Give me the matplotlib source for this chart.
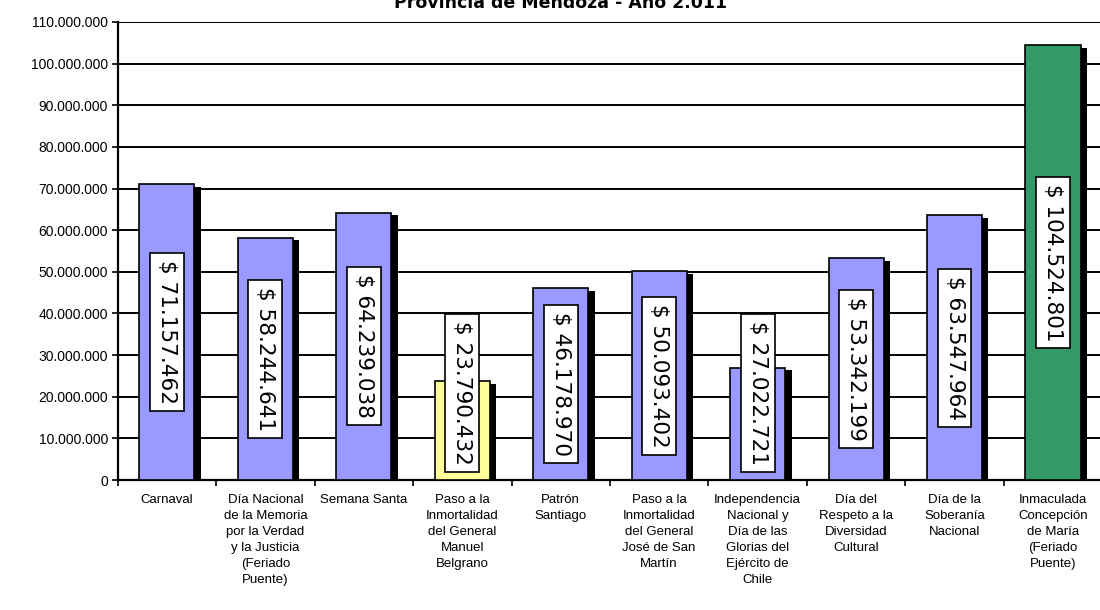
import numpy as np
import matplotlib.pyplot as plt
from matplotlib.ticker import FuncFormatter, MultipleLocator, FixedLocator

# datos del grafico
feriados = [
    "Carnaval",
    "Día Nacional\nde la Memoria\npor la Verdad\ny la Justicia\n(Feriado\nPuente)",
    "Semana Santa",
    "Paso a la\nInmortalidad\ndel General\nManuel\nBelgrano",
    "Patrón\nSantiago",
    "Paso a la\nInmortalidad\ndel General\nJosé de San\nMartín",
    "Independencia\nNacional y\nDía de las\nGlorias del\nEjército de\nChile",
    "Día del\nRespeto a la\nDiversidad\nCultural",
    "Día de la\nSoberanía\nNacional",
    "Inmaculada\nConcepción\nde María\n(Feriado\nPuente)",
]
gasto = [71157462, 58244641, 64239038, 23790432, 46178970,
         50093402, 27022721, 53342199, 63547964, 104524801]
colores = ['#9999FF', '#9999FF', '#9999FF', '#FFFF99', '#9999FF',
           '#9999FF', '#9999FF', '#9999FF', '#9999FF', '#339966']

titulo = "Provincia de Mendoza - Año 2.011"


def miles(v, pos=None):
    return f"{int(v):,}".replace(",", ".")


fig = plt.figure(figsize=(11, 6.1), dpi=100)
ax = fig.add_axes([0.107, 0.213, 0.895, 0.751])

x = np.arange(len(gasto))
ancho = 0.56

# sombra negra desplazada
ax.bar(x + 0.065, np.array(gasto) - 0.7e6, width=ancho, color='black', zorder=2)
ax.bar(x, gasto, width=ancho, color=colores, edgecolor='black', linewidth=1.2, zorder=3)

for xi, v in zip(x, gasto):
    ypos = max(v / 2, 20.9e6)
    ax.text(xi, ypos, "$ " + miles(v), rotation=-90, ha='center', va='center',
            fontsize=15.5, family='DejaVu Sans', zorder=5,
            bbox=dict(boxstyle='square,pad=0.32', fc='white', ec='black', lw=1.2))

ax.set_ylim(0, 110e6)
ax.set_xlim(-0.5, len(gasto) - 0.5)
ax.yaxis.set_major_locator(MultipleLocator(10e6))
ax.yaxis.set_major_formatter(FuncFormatter(miles))
ax.grid(axis='y', color='black', linewidth=1.4, zorder=0)
ax.set_axisbelow(True)

ax.set_xticks(x)
ax.set_xticklabels(feriados, fontsize=9.5, family='Liberation Sans', linespacing=1.45)
ax.xaxis.set_minor_locator(FixedLocator(np.arange(-0.5, len(gasto), 1.0)))
ax.tick_params(axis='x', which='major', length=0, pad=10)
ax.tick_params(axis='x', which='minor', length=4, width=1.2)
ax.tick_params(axis='y', length=4, width=1.2, labelsize=10, pad=3)
for lab in ax.get_yticklabels():
    lab.set_family('Liberation Sans')

for s in ['top', 'right']:
    ax.spines[s].set_visible(False)
ax.spines['left'].set_linewidth(1.6)
ax.spines['bottom'].set_linewidth(1.6)

fig.text(0.51, 0.987, titulo, ha='center', va='baseline', fontsize=12.5,
         fontweight='bold', family='DejaVu Sans')

fig.savefig('out.png', dpi=100)
